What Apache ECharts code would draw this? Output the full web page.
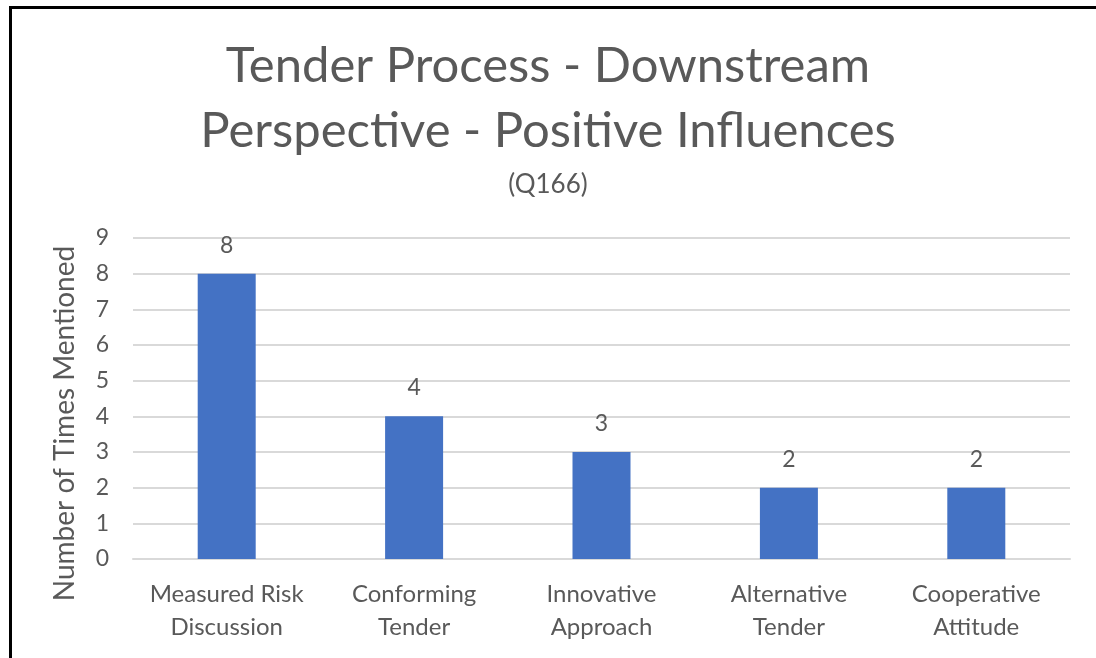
<!DOCTYPE html>
<html>
<head>
<meta charset="utf-8">
<script src="https://cdn.jsdelivr.net/npm/echarts@6/dist/echarts.min.js"></script>
<style>
  html, body { margin: 0; padding: 0; background: #fff; }
  #chart { width: 1096px; height: 658px; }
  .frame {
    position: absolute; left: 9px; top: 6px; width: 1090px; height: 660px;
    border-left: 3px solid #000; border-top: 3px solid #000;
    pointer-events: none; box-sizing: border-box;
  }
</style>
</head>
<body>
<div id="chart"></div>
<div class="frame"></div>
<script>
const categories = ['Measured Risk Discussion', 'Conforming Tender', 'Innovative Approach', 'Alternative Tender', 'Cooperative Attitude']
const timesMentioned = [8, 4, 3, 2, 2]
const yTicks = { min: 0, max: 9, interval: 1 }

const font = 'Lato, "Open Sans", sans-serif'
const textColor = '#595959'

const chart = echarts.init(document.getElementById('chart'))

chart.setOption({
  animation: false,
  title: {
    text: 'Tender Process - Downstream\nPerspective - Positive Influences',
    subtext: '(Q166)',
    left: 'center',
    top: 29,
    itemGap: 8,
    textStyle: { fontFamily: font, fontSize: 49, fontWeight: 'normal', color: textColor, lineHeight: 65 },
    subtextStyle: { fontFamily: font, fontSize: 26, color: textColor },
  },
  grid: { left: 133, right: 26, top: 238, bottom: 99 },
  xAxis: {
    type: 'category',
    data: categories,
    axisTick: { show: false },
    axisLine: { lineStyle: { color: '#d9d9d9', width: 2 } },
    axisLabel: {
      fontFamily: font,
      fontSize: 24,
      color: textColor,
      lineHeight: 33,
      margin: 19,
      interval: 0,
      formatter: (v) => {
        const i = v.lastIndexOf(' ')
        return v.slice(0, i) + '\n' + v.slice(i + 1)
      },
    },
  },
  yAxis: {
    type: 'value',
    min: yTicks.min,
    max: yTicks.max,
    interval: yTicks.interval,
    name: 'Number of Times Mentioned',
    nameLocation: 'middle',
    nameGap: 54,
    nameTextStyle: { fontFamily: font, fontSize: 28, color: textColor, padding: [0, 50, 0, 0] },
    axisLine: { show: false },
    axisTick: { show: false },
    splitLine: { lineStyle: { color: '#d9d9d9', width: 2 } },
    axisLabel: { fontFamily: font, fontSize: 23, color: textColor, margin: 24 },
  },
  series: [
    {
      type: 'bar',
      data: timesMentioned,
      barWidth: 58,
      itemStyle: { color: '#4472c4' },
      label: {
        show: true,
        position: 'top',
        distance: 17,
        fontFamily: font,
        fontSize: 23,
        color: textColor,
      },
    },
  ],
})
</script>
</body>
</html>
